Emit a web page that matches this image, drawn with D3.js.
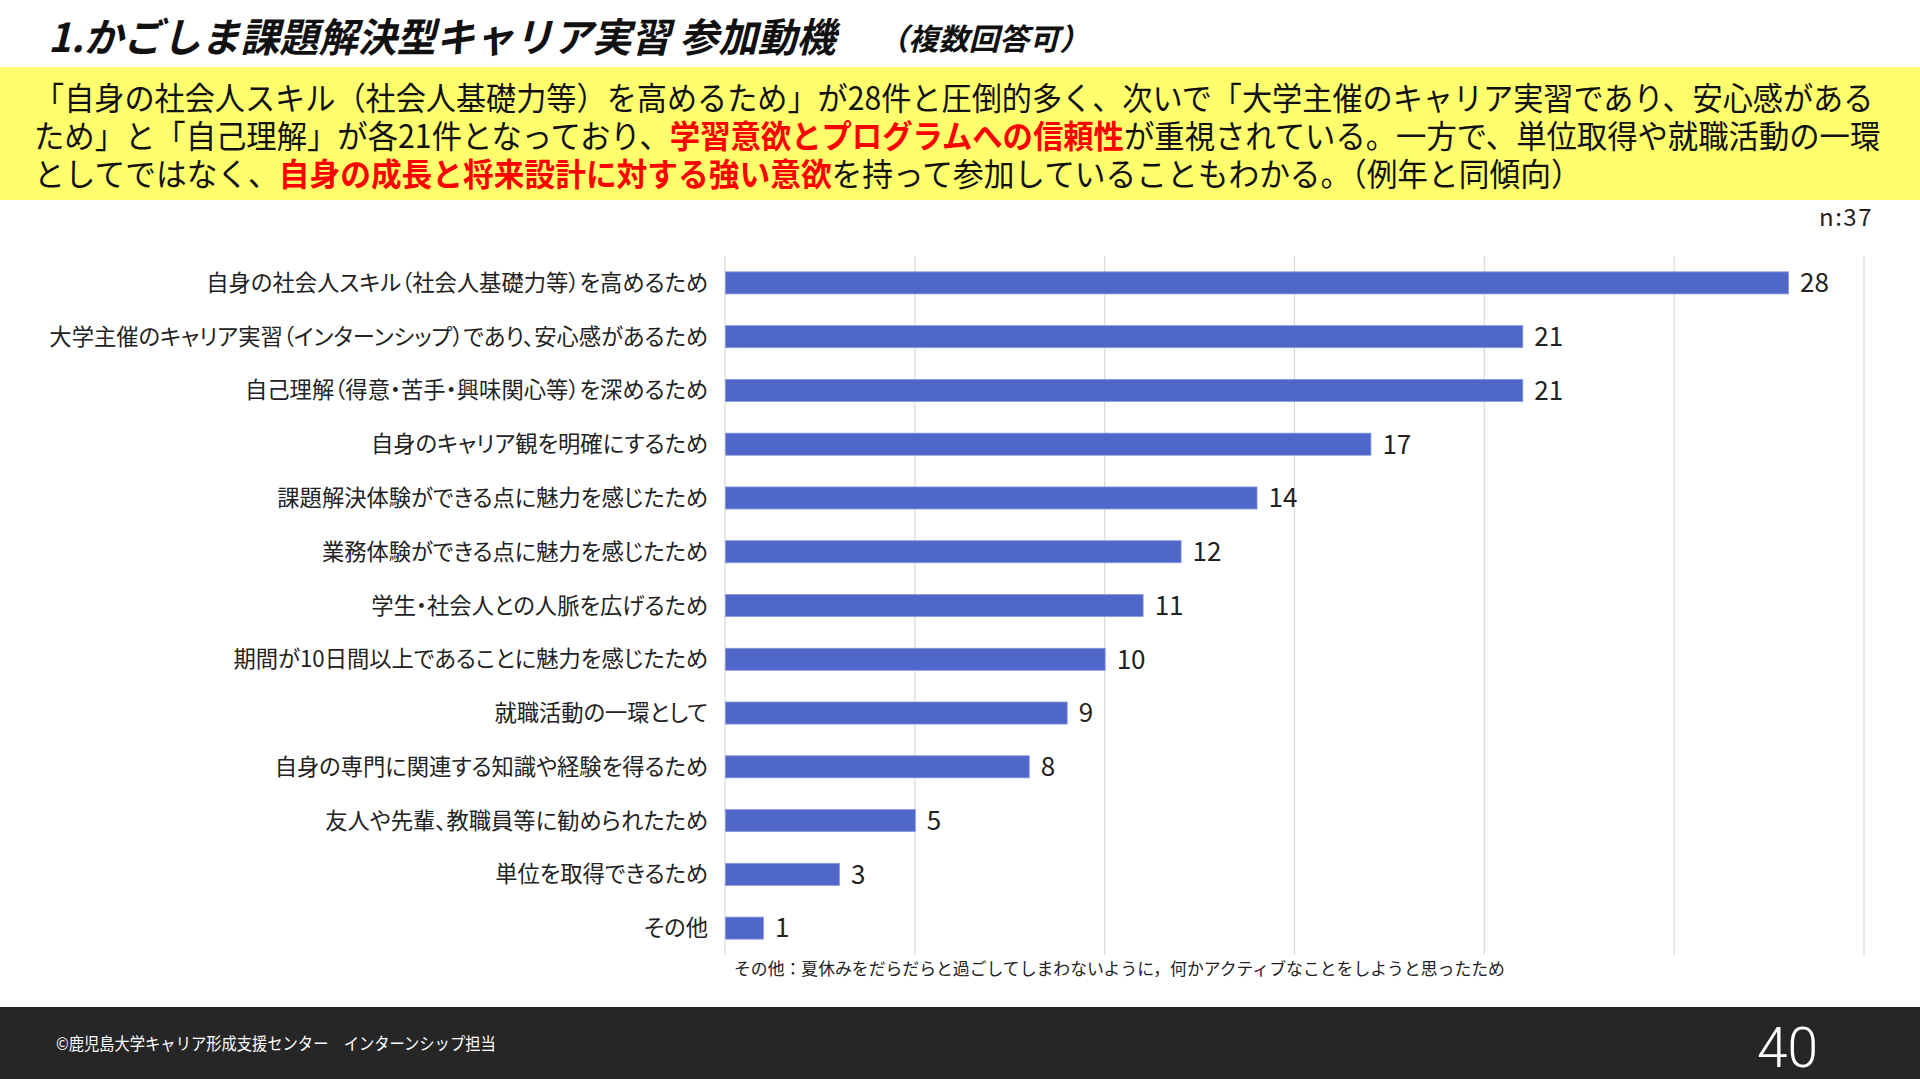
<!DOCTYPE html>
<html>
<head>
<meta charset="utf-8">
<title>かごしま課題解決型キャリア実習 参加動機</title>
<script src="https://cdn.jsdelivr.net/npm/d3@7/dist/d3.min.js"></script>
<style>
    html, body { margin: 0; padding: 0; background: #fff; }
    svg { display: block; font-family: "Noto Sans CJK JP", "Noto Sans", sans-serif; }
    .cat { font-feature-settings: "palt"; }
</style>
</head>
<body>
<svg id="chart" width="1920" height="1079"></svg>
<script>
// chart data
const categories = [
    "自身の社会人スキル（社会人基礎力等）を高めるため",
    "大学主催のキャリア実習（インターンシップ）であり、安心感があるため",
    "自己理解（得意・苦手・興味関心等）を深めるため",
    "自身のキャリア観を明確にするため",
    "課題解決体験ができる点に魅力を感じたため",
    "業務体験ができる点に魅力を感じたため",
    "学生・社会人との人脈を広げるため",
    "期間が10日間以上であることに魅力を感じたため",
    "就職活動の一環として",
    "自身の専門に関連する知識や経験を得るため",
    "友人や先輩、教職員等に勧められたため",
    "単位を取得できるため",
    "その他"
];
const counts = [28, 21, 21, 17, 14, 12, 11, 10, 9, 8, 5, 3, 1];
const gridTicks = [0, 5, 10, 15, 20, 25, 30];

const titleText = "1.かごしま課題解決型キャリア実習 参加動機";
const subTitleText = "（複数回答可）";
const sampleText = "n:37";
const noteText = "その他：夏休みをだらだらと過ごしてしまわないように，何かアクティブなことをしようと思ったため";
const footerText = "©鹿児島大学キャリア形成支援センター　インターンシップ担当";
const pageNo = "40";

// summary lines, [text, highlighted?]
const summary = [
    [["「自身の社会人スキル（社会人基礎力等）を高めるため」が28件と圧倒的多く、次いで「大学主催のキャリア実習であり、安心感がある", false]],
    [["ため」と「自己理解」が各21件となっており、", false], ["学習意欲とプログラムへの信頼性", true], ["が重視されている。一方で、単位取得や就職活動の一環", false]],
    [["としてではなく、", false], ["自身の成長と将来設計に対する強い意欲", true], ["を持って参加していることもわかる。（例年と同傾向）", false]]
];

const svg = d3.select("#chart");

// squeeze a text node horizontally so it spans the given width
function fitWidth(sel, x0, w) {
    const len = sel.node().getComputedTextLength();
    const s = w / len;
    sel.attr("transform", `translate(${x0},0) scale(${s},1) translate(${-x0},0)`);
    return s;
}

// title
const title = svg.append("text")
    .attr("x", 48).attr("y", 52)
    .attr("font-size", 40).attr("font-weight", 700).attr("font-style", "italic")
    .attr("fill", "#111")
    .text(titleText);
fitWidth(title, 48, 788);

const sub = svg.append("text")
    .attr("x", 878).attr("y", 50)
    .attr("font-size", 30).attr("font-weight", 700).attr("font-style", "italic")
    .attr("fill", "#111")
    .text(subTitleText);
fitWidth(sub, 878, 212);

// yellow summary box
svg.append("rect")
    .attr("x", 0).attr("y", 67).attr("width", 1920).attr("height", 133)
    .attr("fill", "#ffff6d");

const lineY = [110, 148, 186];
const lineW = [1840, 1847, 1548];
summary.forEach((parts, i) => {
    const t = svg.append("text")
        .attr("x", 34).attr("y", lineY[i])
        .attr("font-size", 32).attr("fill", "#111");
    parts.forEach(([str, hi]) => {
        t.append("tspan")
            .attr("fill", hi ? "#ff0000" : "#111")
            .attr("font-weight", hi ? 700 : 400)
            .text(str);
    });
    fitWidth(t, 34, lineW[i]);
});

// n
svg.append("text")
    .attr("x", 1873).attr("y", 226)
    .attr("text-anchor", "end")
    .attr("font-size", 24).attr("fill", "#222")
    .attr("letter-spacing", 1.5)
    .text(sampleText);

// bar chart
const x = d3.scaleLinear().domain([0, 30]).range([725, 1864]);
const y = d3.scaleBand().domain(categories).range([256, 955])
    .paddingInner(0.59).paddingOuter(0.295);

svg.append("g").selectAll("line")
    .data(gridTicks)
    .join("line")
    .attr("x1", d => x(d)).attr("x2", d => x(d))
    .attr("y1", 256).attr("y2", 955)
    .attr("stroke", "#d9d9d9").attr("stroke-width", 1.2);

svg.append("g").selectAll("rect")
    .data(counts)
    .join("rect")
    .attr("x", x(0) + 0.5)
    .attr("y", (d, i) => y(categories[i]))
    .attr("width", d => x(d) - x(0))
    .attr("height", y.bandwidth())
    .attr("fill", "#4f67c9")
    .attr("stroke", "#8898dc").attr("stroke-width", 0.8);

svg.append("g").selectAll("text")
    .data(counts)
    .join("text")
    .attr("x", d => x(d) + 12)
    .attr("y", (d, i) => y(categories[i]) + y.bandwidth() / 2)
    .attr("dy", "0.36em")
    .attr("font-size", 26).attr("fill", "#222")
    .text(d => d);

svg.append("g").selectAll("text")
    .data(categories)
    .join("text")
    .attr("class", "cat")
    .attr("x", 708)
    .attr("y", d => y(d) + y.bandwidth() / 2)
    .attr("dy", "0.36em")
    .attr("text-anchor", "end")
    .attr("font-size", 22.3).attr("fill", "#222")
    .text(d => d);

// note under the chart
const note = svg.append("text")
    .attr("x", 734).attr("y", 975)
    .attr("font-size", 17).attr("fill", "#222")
    .text(noteText);
fitWidth(note, 734, 772);

// footer
svg.append("rect")
    .attr("x", 0).attr("y", 1007).attr("width", 1920).attr("height", 72)
    .attr("fill", "#262626");

const foot = svg.append("text")
    .attr("x", 56).attr("y", 1050)
    .attr("font-size", 17).attr("fill", "#fff")
    .text(footerText);
fitWidth(foot, 56, 440);

svg.append("text")
    .attr("x", 1818).attr("y", 1067)
    .attr("text-anchor", "end")
    .attr("font-size", 55).attr("fill", "#fff")
    .attr("font-family", "Roboto, 'Noto Sans', sans-serif")
    .attr("font-weight", 300)
    .text(pageNo);
</script>
</body>
</html>
